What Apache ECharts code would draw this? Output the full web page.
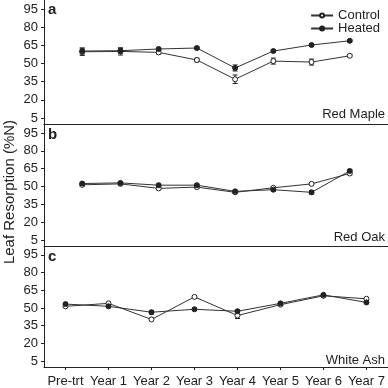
<!DOCTYPE html>
<html>
<head>
<meta charset="utf-8">
<script src="https://cdn.jsdelivr.net/npm/echarts@6/dist/echarts.min.js"></script>
<style>
  html, body { margin: 0; padding: 0; background: #fff; }
  #chart { width: 388px; height: 388px; }
</style>
</head>
<body>
<div id="chart"></div>
<script>
// leaf N resorption, three species, control vs heated
const years = ['Pre-trt', 'Year 1', 'Year 2', 'Year 3', 'Year 4', 'Year 5', 'Year 6', 'Year 7'];
const yTicks = [5, 20, 35, 50, 65, 80, 95];

const mapleControl = [59.7, 60.0, 59.2, 52.9, 37.0, 52.0, 51.2, 56.4];
const mapleHeated = [60.3, 60.6, 62.0, 62.8, 46.3, 60.3, 65.3, 68.8];
const mapleControlErr = [3, 3, 1.5, 1.5, 3.5, 2.5, 2.5, 1];
const mapleHeatedErr = [2.5, 2, 1, 1, 2.5, 1, 1, 1];

const oakControl = [51.4, 52.2, 48.4, 49.5, 45.1, 48.9, 52.2, 60.9];
const oakHeated = [52.5, 53.0, 51.1, 51.1, 45.9, 47.3, 45.1, 63.1];
const oakControlErr = [1, 1, 1, 1, 1, 1, 1, 1];
const oakHeatedErr = [1, 1, 1, 1, 1, 1, 1.5, 1];

const ashControl = [51.4, 53.9, 40.3, 59.4, 43.6, 52.8, 60.3, 57.8];
const ashHeated = [53.3, 51.4, 46.4, 48.9, 47.2, 53.9, 61.1, 54.7];
const ashControlErr = [1, 1, 1, 1, 2.5, 1, 1, 1];
const ashHeatedErr = [1, 1, 1.5, 1, 1, 1, 1, 1];

const FONT = 'Liberation Sans, Arial, sans-serif';
const INK = '#222';

const chart = echarts.init(document.getElementById('chart'));

const panels = [
  { top: 0, height: 124, ctrl: mapleControl, heat: mapleHeated, ce: mapleControlErr, he: mapleHeatedErr },
  { top: 124, height: 122, ctrl: oakControl, heat: oakHeated, ce: oakControlErr, he: oakHeatedErr },
  { top: 246, height: 123, ctrl: ashControl, heat: ashHeated, ce: ashControlErr, he: ashHeatedErr }
];

function lineSeries(name, vals, idx, filled) {
  return {
    name: name,
    type: 'line',
    xAxisIndex: idx,
    yAxisIndex: idx,
    data: vals.map((v, i) => [i, v]),
    symbol: 'circle',
    symbolSize: 5,
    z: 3,
    lineStyle: { color: '#333', width: 1 },
    itemStyle: { color: filled ? INK : '#fff', borderColor: INK, borderWidth: 1 },
    emphasis: { disabled: true }
  };
}

function errorBars(vals, errs, idx) {
  return {
    type: 'custom',
    xAxisIndex: idx,
    yAxisIndex: idx,
    silent: true,
    z: 2,
    data: vals.map((v, i) => [i, v - errs[i], v + errs[i]]),
    renderItem: function (params, api) {
      const lo = api.coord([api.value(0), api.value(1)]);
      const hi = api.coord([api.value(0), api.value(2)]);
      const w = 2.5;
      const st = { stroke: INK, lineWidth: 1 };
      return {
        type: 'group',
        children: [
          { type: 'line', shape: { x1: lo[0], y1: lo[1], x2: hi[0], y2: hi[1] }, style: st },
          { type: 'line', shape: { x1: lo[0] - w, y1: lo[1], x2: lo[0] + w, y2: lo[1] }, style: st },
          { type: 'line', shape: { x1: hi[0] - w, y1: hi[1], x2: hi[0] + w, y2: hi[1] }, style: st }
        ]
      };
    }
  };
}

const grids = [], xAxes = [], yAxes = [], series = [];
panels.forEach((p, k) => {
  grids.push({ left: 44, right: 0, top: p.top, height: p.height });
  const last = k === 2;
  xAxes.push(last ? {
    type: 'category',
    gridIndex: k,
    data: years,
    boundaryGap: true,
    axisLine: { lineStyle: { color: INK, width: 1 } },
    axisTick: { show: true, alignWithLabel: true, length: 3, lineStyle: { color: INK } },
    axisLabel: { color: INK, fontSize: 13, fontFamily: FONT, margin: 8, interval: 0 },
    splitLine: { show: false }
  } : {
    type: 'value',
    gridIndex: k,
    min: -1,
    max: 8,
    axisLine: { show: true, onZero: false, lineStyle: { color: INK, width: 1 } },
    axisTick: { show: false },
    axisLabel: { show: false },
    splitLine: { show: false }
  });
  yAxes.push({
    type: 'value',
    gridIndex: k,
    min: 0,
    max: 102.5,
    axisLine: { show: true, onZero: false, lineStyle: { color: INK, width: 1 } },
    axisTick: { show: true, length: 3, customValues: yTicks, lineStyle: { color: INK } },
    axisLabel: { color: INK, fontSize: 13, fontFamily: FONT, margin: 6, customValues: yTicks },
    splitLine: { show: false }
  });
  series.push(errorBars(p.ctrl, p.ce, k));
  series.push(errorBars(p.heat, p.he, k));
  series.push(lineSeries('Control', p.ctrl, k, false));
  series.push(lineSeries('Heated', p.heat, k, true));
});

const option = {
  animation: false,
  backgroundColor: '#fff',
  textStyle: { fontFamily: FONT },
  legend: {
    data: ['Control', 'Heated'],
    orient: 'vertical',
    right: 3,
    top: 4,
    itemWidth: 22,
    itemHeight: 5,
    itemGap: 0,
    textStyle: { color: INK, fontSize: 13, fontFamily: FONT, padding: 0 },
    selectedMode: false
  },
  grid: grids,
  xAxis: xAxes,
  yAxis: yAxes,
  series: series,
  graphic: [
    { type: 'text', left: 48, top: 2, style: { text: 'a', font: 'bold 15px ' + FONT, fill: INK } },
    { type: 'text', left: 48, top: 127, style: { text: 'b', font: 'bold 15px ' + FONT, fill: INK } },
    { type: 'text', left: 48, top: 249, style: { text: 'c', font: 'bold 15px ' + FONT, fill: INK } },
    { type: 'text', right: 3, top: 108, style: { text: 'Red Maple', font: '13px ' + FONT, fill: INK } },
    { type: 'text', right: 3, top: 231, style: { text: 'Red Oak', font: '13px ' + FONT, fill: INK } },
    { type: 'text', right: 3, top: 354, style: { text: 'White Ash', font: '13px ' + FONT, fill: INK } },
    {
      type: 'text',
      x: 10, y: 192,
      rotation: Math.PI / 2,
      style: { text: 'Leaf Resorption (%N)', font: '15px ' + FONT, fill: INK, align: 'center', verticalAlign: 'middle' }
    }
  ]
};

chart.setOption(option);
</script>
</body>
</html>
